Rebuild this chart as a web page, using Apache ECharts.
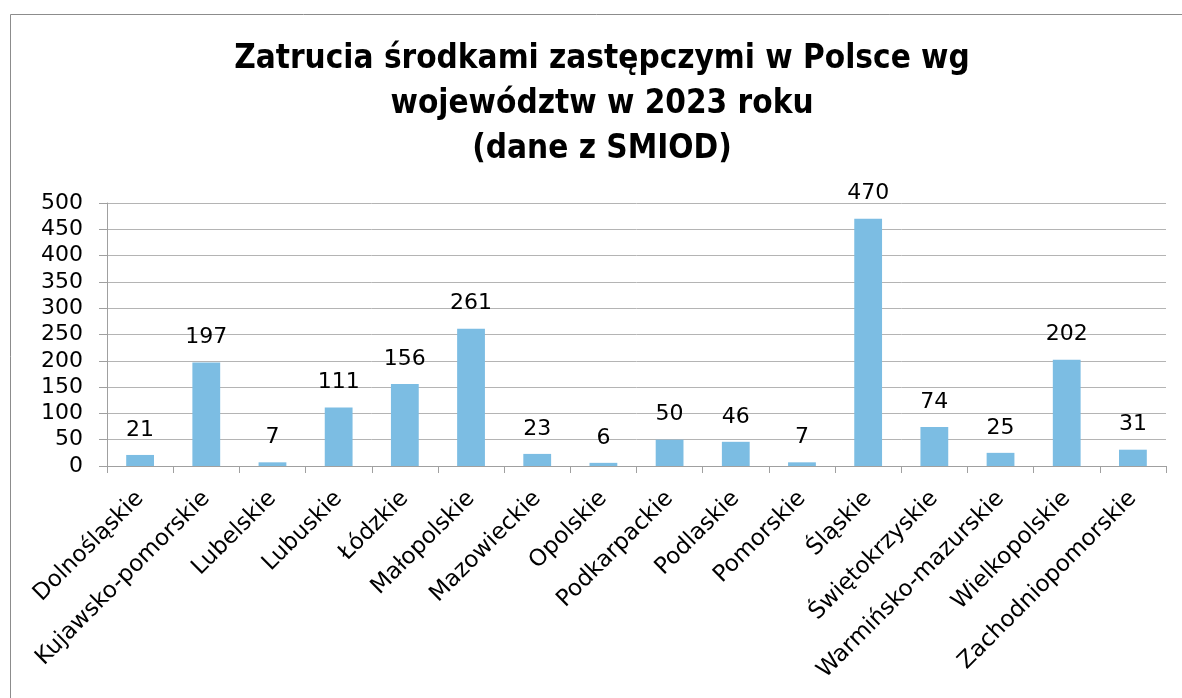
<!DOCTYPE html>
<html>
<head>
<meta charset="utf-8">
<script src="https://cdn.jsdelivr.net/npm/echarts@6/dist/echarts.min.js"></script>
<style>
  html, body { margin: 0; padding: 0; background: #ffffff; }
  #chart { width: 1182px; height: 698px; }
</style>
</head>
<body>
<div id="chart"></div>
<script>
// Województwa (voivodeships) and poisoning counts, 2023
const categories = [
  'Dolnośląskie', 'Kujawsko-pomorskie', 'Lubelskie', 'Lubuskie', 'Łódzkie',
  'Małopolskie', 'Mazowieckie', 'Opolskie', 'Podkarpackie', 'Podlaskie',
  'Pomorskie', 'Śląskie', 'Świętokrzyskie', 'Warmińsko-mazurskie',
  'Wielkopolskie', 'Zachodniopomorskie'
];
const values = [21, 197, 7, 111, 156, 261, 23, 6, 50, 46, 7, 470, 74, 25, 202, 31];
const yTicks = [0, 50, 100, 150, 200, 250, 300, 350, 400, 450, 500];
const titleLines = [
  'Zatrucia środkami zastępczymi w Polsce wg',
  'województw w 2023 roku',
  '(dane z SMIOD)'
];

const labelFont = '"DejaVu Sans", "Liberation Sans", Arial, sans-serif';
const chart = echarts.init(document.getElementById('chart'), null, { renderer: 'canvas' });

chart.setOption({
  animation: false,
  backgroundColor: '#ffffff',
  graphic: [{
    type: 'rect',
    left: 8, top: 12,
    shape: { x: 0.5, y: 0.5, width: 1200, height: 720 },
    style: { fill: 'none', stroke: '#8c8c8c', lineWidth: 1 },
    silent: true
  }],
  title: {
    text: titleLines.join('\n'),
    left: 597,
    textAlign: 'center',
    top: 32,
    textStyle: {
      fontFamily: '"DejaVu Sans Condensed", "Liberation Sans", Arial, sans-serif',
      fontWeight: 'bold',
      fontSize: 33,
      lineHeight: 45,
      color: '#000000'
    }
  },
  grid: { left: 107, right: 16, top: 203, bottom: 232, containLabel: false },
  xAxis: {
    type: 'category',
    data: categories,
    axisLine: { show: true, lineStyle: { color: '#a0a0a0', width: 1 } },
    axisTick: { show: true, alignWithLabel: false, length: 7, lineStyle: { color: '#a0a0a0' } },
    axisLabel: {
      interval: 0,
      rotate: 45,
      margin: 29,
      fontFamily: labelFont,
      fontSize: 23,
      color: '#000000'
    }
  },
  yAxis: {
    type: 'value',
    min: yTicks[0],
    max: yTicks[yTicks.length - 1],
    interval: 50,
    axisLine: { show: true, lineStyle: { color: '#a0a0a0', width: 1 } },
    axisTick: { show: true, length: 8, lineStyle: { color: '#a0a0a0' } },
    splitLine: { show: true, lineStyle: { color: '#b4b4b4', width: 1 } },
    axisLabel: {
      margin: 24,
      fontFamily: labelFont,
      fontSize: 22,
      color: '#000000'
    }
  },
  series: [{
    type: 'bar',
    data: values,
    barWidth: '42%',
    itemStyle: { color: '#7cbde3' },
    label: {
      show: true,
      position: 'top',
      distance: 14,
      fontFamily: labelFont,
      fontSize: 22,
      color: '#000000'
    }
  }]
});
</script>
</body>
</html>
